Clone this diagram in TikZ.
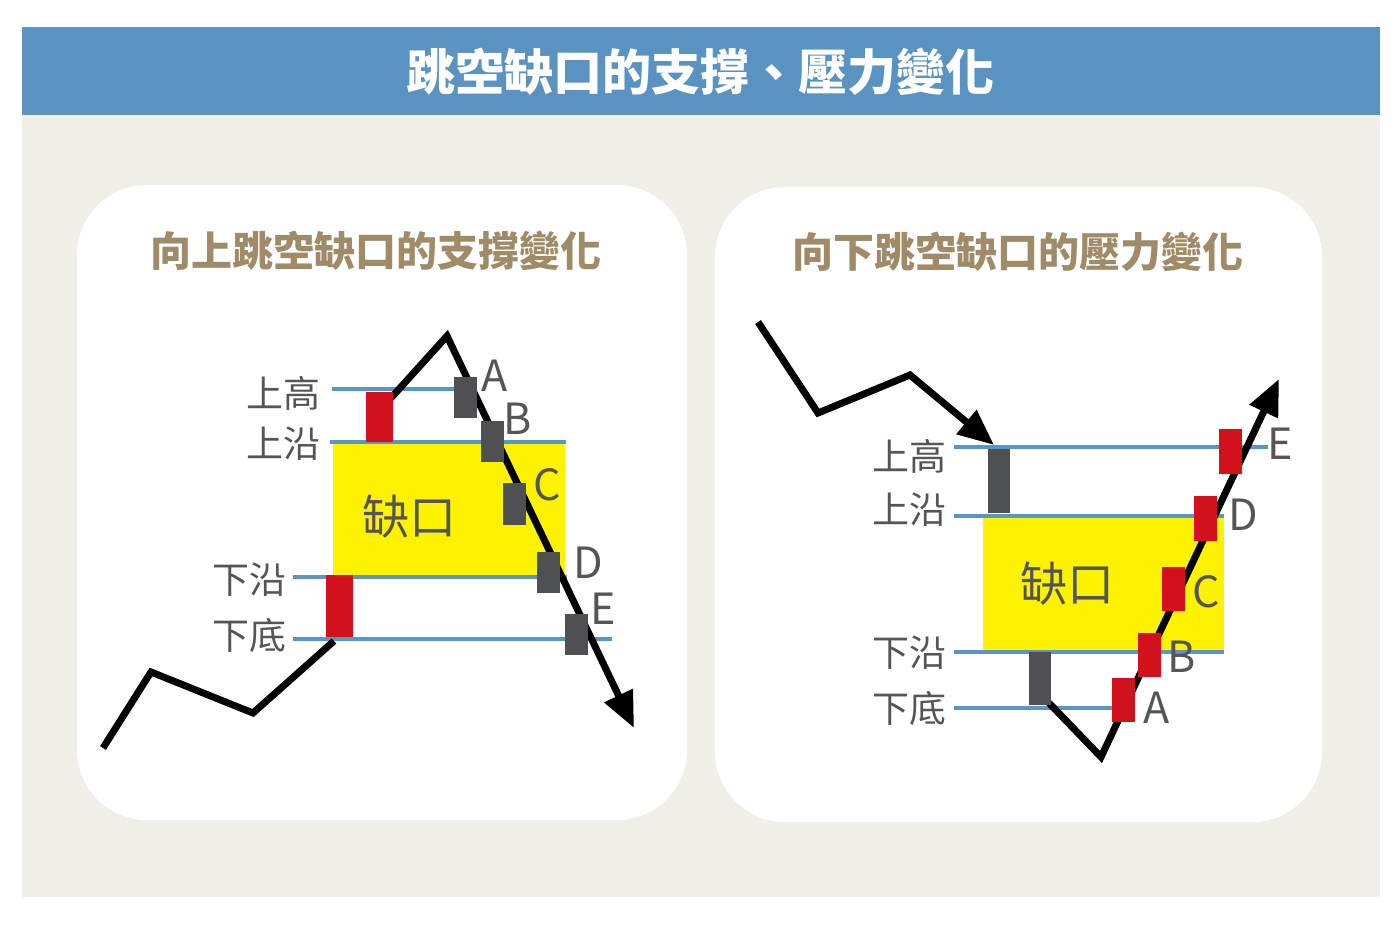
\documentclass[tikz,border=0pt]{standalone}
\usepackage{fontspec}
\setmainfont{Noto Sans CJK TC}
\usetikzlibrary{arrows.meta}
\definecolor{bgbeige}{HTML}{EFEEE7}
\definecolor{titleblue}{HTML}{5A93C1}
\definecolor{lineblue}{HTML}{5B95C6}
\definecolor{candlered}{HTML}{D2121A}
\definecolor{candlegray}{HTML}{4E5054}
\definecolor{gapyellow}{HTML}{FFF200}
\definecolor{titletan}{HTML}{A08B68}
\definecolor{labelgray}{HTML}{555555}
\tikzset{
  panel/.style={fill=white, draw=none, rounded corners=70pt},
  redcandle/.style={fill=candlered, draw=none, inner sep=0pt, minimum width=#1},
  redcandle/.default=27pt,
  graycandle/.style={fill=candlegray, draw=none, inner sep=0pt, minimum width=#1},
  graycandle/.default=23pt,
  levelline/.style={draw=lineblue, line width=3.5pt},
  price/.style={draw=black, line width=7pt, line join=miter},
  pricearrow/.style={price, -{Triangle[length=36pt,width=30pt]}},
  lvllabel/.style={text=labelgray, font=\fontsize{37}{37}\selectfont, inner sep=0pt},
  ptlabel/.style={text=labelgray, font=\fontsize{43}{43}\selectfont, inner sep=0pt},
  gaplabel/.style={text=labelgray, font=\fontsize{47}{47}\selectfont, inner sep=0pt},
  paneltitle/.style={text=titletan, font=\bfseries\fontsize{41}{41}\selectfont, inner sep=0pt},
  maintitle/.style={text=white, font=\bfseries\fontsize{49}{49}\selectfont, inner sep=0pt},
}
\begin{document}
\begin{tikzpicture}[x=1pt,y=-1pt]
\useasboundingbox (0,0) rectangle (1400,925);
\fill[white] (0,0) rectangle (1400,925);
\fill[bgbeige] (22,115) rectangle (1380,897);
\fill[titleblue] (22,27) rectangle (1380,115);
\node[maintitle] (title) at (700,72) {跳空缺口的支撐、壓力變化};

% ---------------- left panel ----------------
\path[panel] (77,185) rectangle (687,820);
\node[paneltitle] (ltitle) at (376,251) {向上跳空缺口的支撐變化};

\fill[gapyellow] (333,442) rectangle (565,577);
\node[gaplabel] (lgap) at (409,517) {缺口};

\coordinate (lhiL) at (332,389);  \coordinate (lhiR) at (463,389);
\coordinate (lupL) at (330,442);  \coordinate (lupR) at (566,442);
\coordinate (llwL) at (293,577);  \coordinate (llwR) at (567,577);
\coordinate (lbtL) at (293,639);  \coordinate (lbtR) at (612,639);
\draw[levelline] (lhiL) -- (lhiR);
\draw[levelline] (lupL) -- (lupR);
\draw[levelline] (llwL) -- (llwR);
\draw[levelline] (lbtL) -- (lbtR);

\node[lvllabel, anchor=east] (lhi) at (321,393) {上高};
\node[lvllabel, anchor=east] (lup) at (321,444) {上沿};
\node[lvllabel, anchor=east] (llw) at (287,580) {下沿};
\node[lvllabel, anchor=east] (lbt) at (287,635) {下底};

\coordinate (l0) at (103,748);
\coordinate (l1) at (151,672);
\coordinate (l2) at (253,713);
\coordinate (l3) at (334,641);
\coordinate (l4) at (391,398);
\coordinate (l5) at (447,336);
\coordinate (l6) at (634,728);
\draw[price] (l0) -- (l1) -- (l2) -- (l3);
\draw[pricearrow] (l4) -- (l5) -- (l6);

\node[redcandle, minimum height=50pt] (lr1) at (379.5,417) {};
\node[redcandle, minimum height=62pt] (lr2) at (339.5,606) {};
\node[graycandle, minimum height=41pt] (lA) at (465.5,397.5) {};
\node[graycandle, minimum height=41pt] (lB) at (492.5,441.5) {};
\node[graycandle, minimum height=42pt] (lC) at (514.5,504) {};
\node[graycandle, minimum height=41pt] (lD) at (548.5,572.5) {};
\node[graycandle, minimum height=41pt] (lE) at (576.5,634.5) {};

\node[ptlabel] (lAl) at (495,376) {A};
\node[ptlabel] (lBl) at (518,419) {B};
\node[ptlabel] (lCl) at (547,485) {C};
\node[ptlabel] (lDl) at (588,563) {D};
\node[ptlabel] (lEl) at (603,609) {E};

% ---------------- right panel ----------------
\path[panel] (715,187) rectangle (1322,822);
\node[paneltitle] (rtitle) at (1018,252) {向下跳空缺口的壓力變化};

\fill[gapyellow] (983,516) rectangle (1224,652);
\node[gaplabel] (rgap) at (1067,584) {缺口};

\coordinate (rhiL) at (954,447);  \coordinate (rhiR) at (1268,447);
\coordinate (rupL) at (954,516);  \coordinate (rupR) at (1224,516);
\coordinate (rlwL) at (954,652);  \coordinate (rlwR) at (1224,652);
\coordinate (rbtL) at (954,708);  \coordinate (rbtR) at (1114,708);
\draw[levelline] (rhiL) -- (rhiR);
\draw[levelline] (rupL) -- (rupR);
\draw[levelline] (rlwL) -- (rlwR);
\draw[levelline] (rbtL) -- (rbtR);

\node[lvllabel, anchor=east] (rhi) at (947,456) {上高};
\node[lvllabel, anchor=east] (rup) at (947,510) {上沿};
\node[lvllabel, anchor=east] (rlw) at (947,653) {下沿};
\node[lvllabel, anchor=east] (rbt) at (947,708) {下底};

\coordinate (r0) at (758,322);
\coordinate (r1) at (818,413);
\coordinate (r2) at (910,375);
\coordinate (r3) at (994,445);
\coordinate (r4) at (1049,703);
\coordinate (r5) at (1101,757);
\coordinate (r6) at (1279,379);
\draw[pricearrow] (r0) -- (r1) -- (r2) -- (r3);
\draw[pricearrow] (r4) -- (r5) -- (r6);

\node[graycandle=22pt, minimum height=64pt] (rg1) at (998.5,481) {};
\node[graycandle=22pt, minimum height=53pt] (rg2) at (1040,678.5) {};
\node[redcandle=23pt, minimum height=44pt] (rA) at (1123.5,700) {};
\node[redcandle=23pt, minimum height=44pt] (rB) at (1149.5,655) {};
\node[redcandle=23pt, minimum height=44pt] (rC) at (1173,589) {};
\node[redcandle=23pt, minimum height=45pt] (rD) at (1205.5,518.5) {};
\node[redcandle=23pt, minimum height=45pt] (rE) at (1230,451.5) {};

\node[ptlabel] (rAl) at (1157,708) {A};
\node[ptlabel] (rBl) at (1182,657) {B};
\node[ptlabel] (rCl) at (1206,592) {C};
\node[ptlabel] (rDl) at (1243,515) {D};
\node[ptlabel] (rEl) at (1280,444) {E};
\end{tikzpicture}
\end{document}
